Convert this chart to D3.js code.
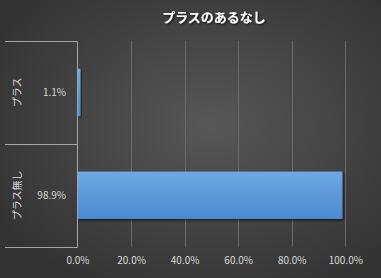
<!DOCTYPE html>
<html>
<head>
<meta charset="utf-8">
<script src="https://cdn.jsdelivr.net/npm/d3@7"></script>
<style>
  html, body { margin: 0; padding: 0; background: #404040; }
  svg { display: block; }
</style>
</head>
<body>
<script>
// categories, values, tick labels
var categories = ["プラス", "プラス無し"];
var values = [1.1, 98.9];
var xTicks = [0, 20, 40, 60, 80, 100];
var title = "プラスのあるなし";

var w = 381, h = 278;
// note: "top" is a read-only global in browsers, so use plotTop etc.
var plotLeft = 77.5, plotRight = 345.3, plotTop = 41, plotBottom = 246.7;
var boxLeft = 5;
var font = "'Noto Sans CJK JP', 'Noto Sans', sans-serif";

var svg = d3.select("body").append("svg")
    .attr("width", w)
    .attr("height", h);

var defs = svg.append("defs");

// background
var bg = defs.append("radialGradient").attr("id", "bg")
    .attr("cx", "55%").attr("cy", "45%").attr("r", "65%");
bg.append("stop").attr("offset", "0%").attr("stop-color", "#575757");
bg.append("stop").attr("offset", "100%").attr("stop-color", "#333333");

var barGrad = defs.append("linearGradient").attr("id", "bar")
    .attr("x1", 0).attr("y1", 0).attr("x2", 0).attr("y2", 1);
barGrad.append("stop").attr("offset", "0%").attr("stop-color", "#6fa8e2");
barGrad.append("stop").attr("offset", "100%").attr("stop-color", "#4a8ad2");

var shadow = defs.append("filter").attr("id", "shadow")
    .attr("x", "-10%").attr("y", "-10%").attr("width", "130%").attr("height", "130%");
shadow.append("feDropShadow").attr("dx", 1.5).attr("dy", 1.5)
    .attr("stdDeviation", 1.2).attr("flood-color", "#000").attr("flood-opacity", 0.6);

var tshadow = defs.append("filter").attr("id", "tshadow");
tshadow.append("feDropShadow").attr("dx", 1).attr("dy", 1)
    .attr("stdDeviation", 0.8).attr("flood-color", "#000").attr("flood-opacity", 0.8);

svg.append("rect").attr("width", w).attr("height", h).attr("fill", "url(#bg)");

// scales
var x = d3.scaleLinear().domain([0, 100]).range([plotLeft, plotRight]);
var y = d3.scaleBand().domain(categories).range([plotTop, plotBottom])
    .paddingInner(0.54).paddingOuter(0.27);
var yBox = d3.scaleBand().domain(categories).range([plotTop, plotBottom]);

// gridlines
svg.append("g").selectAll("line")
    .data(xTicks.filter(function(d) { return d > 0; }))
    .enter().append("line")
    .attr("x1", function(d) { return Math.round(x(d)) + 0.5; })
    .attr("x2", function(d) { return Math.round(x(d)) + 0.5; })
    .attr("y1", plotTop).attr("y2", plotBottom)
    .attr("stroke", "#6a6a6a").attr("stroke-width", 1);

// bars
svg.append("g").selectAll("rect")
    .data(values)
    .enter().append("rect")
    .attr("x", x(0))
    .attr("y", function(d, i) { return y(categories[i]); })
    .attr("width", function(d) { return x(d) - x(0); })
    .attr("height", y.bandwidth())
    .attr("fill", "url(#bar)")
    .attr("filter", "url(#shadow)");

// category box lines
var boxColor = "#a6a6a6";
var yEdges = categories.map(function(c) { return yBox(c); }).concat([plotBottom]);
svg.append("g").selectAll("line")
    .data(yEdges)
    .enter().append("line")
    .attr("x1", boxLeft).attr("x2", plotLeft)
    .attr("y1", function(d) { return Math.round(d) + 0.5; })
    .attr("y2", function(d) { return Math.round(d) + 0.5; })
    .attr("stroke", boxColor);
svg.append("line")
    .attr("x1", plotLeft).attr("x2", plotLeft)
    .attr("y1", Math.round(plotTop) + 0.5).attr("y2", Math.round(plotBottom) + 0.5)
    .attr("stroke", boxColor);

// category labels (rotated)
svg.append("g").selectAll("text")
    .data(categories)
    .enter().append("text")
    .attr("transform", function(d) {
      return "translate(17," + (yBox(d) + yBox.bandwidth() / 2) + ") rotate(-90)";
    })
    .attr("text-anchor", "middle")
    .attr("dy", "0.35em")
    .attr("fill", "#d9d9d9")
    .attr("font-family", font)
    .attr("font-size", "10px")
    .text(function(d) { return d; });

// value labels
svg.append("g").selectAll("text")
    .data(values)
    .enter().append("text")
    .attr("x", 66)
    .attr("y", function(d, i) { return yBox(categories[i]) + yBox.bandwidth() / 2; })
    .attr("dy", "0.35em")
    .attr("text-anchor", "end")
    .attr("fill", "#d9d9d9")
    .attr("font-family", font)
    .attr("font-size", "10px")
    .text(function(d) { return d.toFixed(1) + "%"; });

// x axis labels
var xAxis = svg.append("g")
    .attr("transform", "translate(0," + (plotBottom + 7) + ")")
    .call(d3.axisBottom(x).tickValues(xTicks).tickSize(0)
      .tickFormat(function(d) { return d.toFixed(1) + "%"; }));
xAxis.select(".domain").remove();
xAxis.selectAll("text")
    .attr("fill", "#d9d9d9")
    .attr("font-family", font)
    .attr("font-size", "10px");

// title
svg.append("text")
    .attr("x", 214).attr("y", 22)
    .attr("text-anchor", "middle")
    .attr("fill", "#ffffff")
    .attr("font-family", font)
    .attr("font-weight", "bold")
    .attr("font-size", "13px")
    .attr("filter", "url(#tshadow)")
    .text(title);
</script>
</body>
</html>
